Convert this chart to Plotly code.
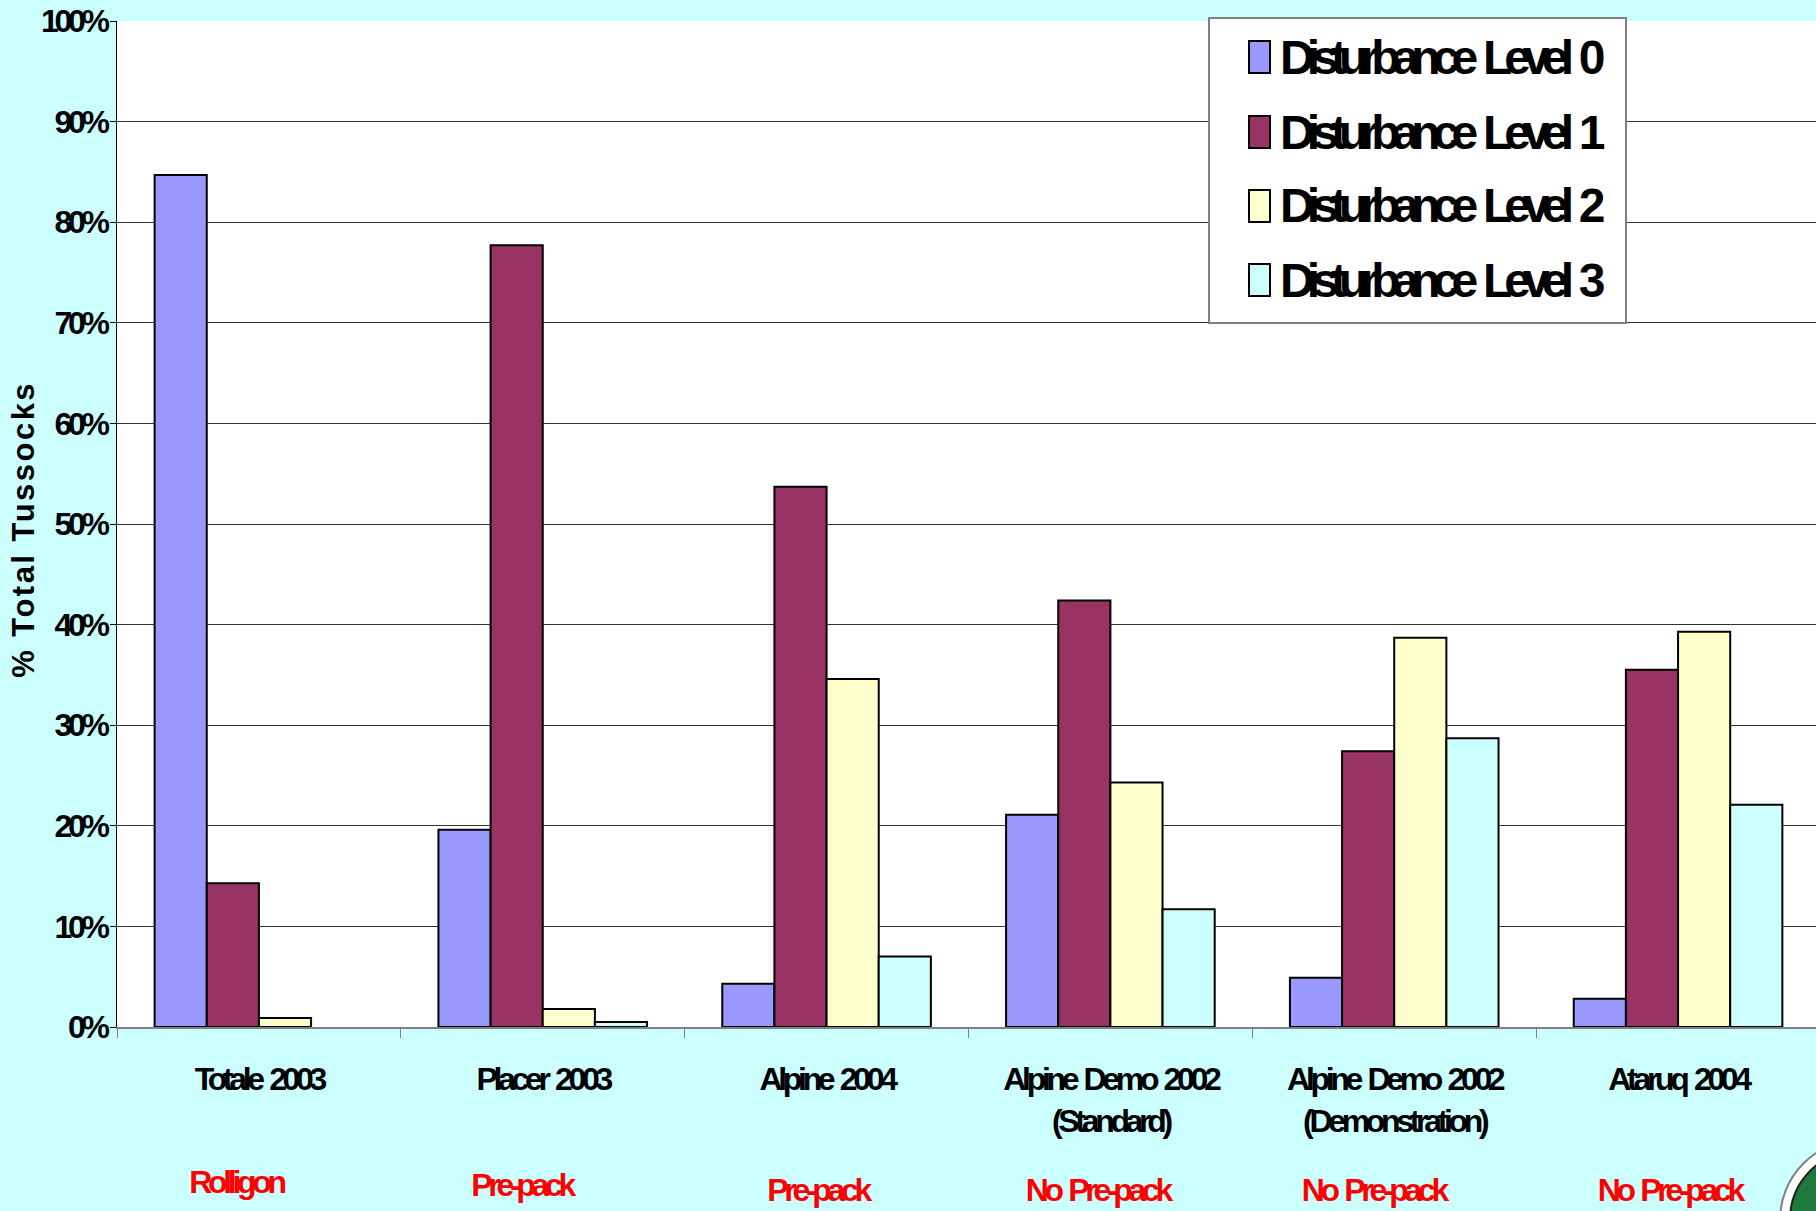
import plotly.graph_objects as go

# ---- data -----------------------------------------------------------------
categories = [
    "Totale 2003",
    "Placer 2003",
    "Alpine 2004",
    "Alpine Demo 2002 (Standard)",
    "Alpine Demo 2002 (Demonstration)",
    "Ataruq 2004",
]
tick_labels = [
    "Totale 2003",
    "Placer 2003",
    "Alpine 2004",
    "Alpine Demo 2002<br>(Standard)",
    "Alpine Demo 2002<br>(Demonstration)",
    "Ataruq 2004",
]
methods = ["Rolligon", "Pre-pack", "Pre-pack", "No Pre-pack", "No Pre-pack", "No Pre-pack"]

level_names = [
    "Disturbance Level 0",
    "Disturbance Level 1",
    "Disturbance Level 2",
    "Disturbance Level 3",
]
level_0 = [84.7, 19.6, 4.3, 21.1, 4.9, 2.8]
level_1 = [14.3, 77.7, 53.7, 42.4, 27.4, 35.5]
level_2 = [0.9, 1.8, 34.6, 24.3, 38.7, 39.3]
level_3 = [None, 0.5, 7.0, 11.7, 28.7, 22.1]
level_values = [level_0, level_1, level_2, level_3]

y_ticks = [0, 10, 20, 30, 40, 50, 60, 70, 80, 90, 100]
y_tick_labels = ["0%", "10%", "20%", "30%", "40%", "50%", "60%", "70%", "80%", "90%", "100%"]
y_title = "% Total Tussocks"

# ---- styling ----------------------------------------------------------------
level_colors = ["#9999FF", "#993366", "#FFFFCC", "#CCFFFF"]
page_bg = "#CCFFFF"
sans = "Liberation Sans, Arial, sans-serif"

W, H = 1816, 1211
M_L, M_R, M_T, M_B = 117, 0, 21, 184
PLOT_W = W - M_L - M_R
PLOT_H = H - M_T - M_B


def px_x(x):
    """pixel column -> paper x"""
    return (x - M_L) / PLOT_W


def px_y(y):
    """pixel row -> paper y"""
    return (H - M_B - y) / PLOT_H


fig = go.Figure()
for name, vals, color in zip(level_names, level_values, level_colors):
    fig.add_trace(
        go.Bar(
            name=name,
            x=categories,
            y=vals,
            marker=dict(color=color, line=dict(color="#000000", width=2)),
            showlegend=False,
        )
    )

fig.update_layout(
    width=W,
    height=H,
    margin=dict(l=M_L, r=M_R, t=M_T, b=M_B, autoexpand=False),
    paper_bgcolor=page_bg,
    plot_bgcolor="#FFFFFF",
    barmode="group",
    bargap=0.265,
    bargroupgap=0,
    font=dict(family=sans, color="#000000"),
)

fig.update_xaxes(
    tickmode="array",
    tickvals=categories,
    ticktext=tick_labels,
    tickangle=0,
    automargin=False,
    range=[-0.5, 5.486],
    showline=True,
    linecolor="#808080",
    linewidth=2,
    ticks="outside",
    tickson="boundaries",
    ticklen=9,
    tickcolor="#808080",
    tickwidth=1,
    showgrid=False,
    tickfont=dict(family=sans, size=32, weight="bold", color="#000000"),
    ticklabelstandoff=23,
)

fig.update_yaxes(
    range=[0, 100],
    tickmode="array",
    tickvals=y_ticks,
    ticktext=y_tick_labels,
    automargin=False,
    showline=True,
    linecolor="#000000",
    linewidth=1,
    ticks="outside",
    ticklen=6,
    tickcolor="#000000",
    showgrid=True,
    gridcolor="#333333",
    gridwidth=1,
    zeroline=False,
    tickfont=dict(family=sans, size=32, weight="bold", color="#000000"),
    ticklabelstandoff=-2,
)

# value-axis title, set vertically beside the tick labels
fig.add_annotation(
    x=px_x(23),
    xref="paper",
    y=px_y(530),
    yref="paper",
    text=y_title,
    textangle=-90,
    showarrow=False,
    xanchor="center",
    yanchor="middle",
    font=dict(family=sans, size=31, weight="bold", color="#000000"),
)

# treatment notes under each site
method_shift = [-23, -21, -9, -13, -21, -9]
method_row = [1182, 1185, 1190, 1190, 1190, 1190]
for cat, text, dx, row in zip(categories, methods, method_shift, method_row):
    fig.add_annotation(
        x=cat,
        xref="x",
        y=px_y(row),
        yref="paper",
        xshift=dx,
        text=text,
        showarrow=False,
        xanchor="center",
        yanchor="middle",
        font=dict(family=sans, size=32, weight="bold", color="#FF0000"),
    )

# legend box
fig.add_shape(
    type="rect",
    xref="paper",
    yref="paper",
    x0=px_x(1209),
    x1=px_x(1626),
    y0=px_y(323),
    y1=px_y(18),
    fillcolor="#FFFFFF",
    line=dict(color="#808080", width=2),
    layer="above",
)
legend_rows = [57, 132, 206, 280]
for name, color, row in zip(level_names, level_colors, legend_rows):
    fig.add_shape(
        type="rect",
        xref="paper",
        yref="paper",
        x0=px_x(1249),
        x1=px_x(1270),
        y0=px_y(row + 16),
        y1=px_y(row - 16),
        fillcolor=color,
        line=dict(color="#000000", width=2),
        layer="above",
    )
    fig.add_annotation(
        x=px_x(1278),
        xref="paper",
        y=px_y(row),
        yref="paper",
        text=name,
        showarrow=False,
        xanchor="left",
        yanchor="middle",
        align="left",
        font=dict(family=sans, size=48, weight="bold", color="#000000"),
    )

# corner seal
fig.add_shape(
    type="circle",
    xref="paper",
    yref="paper",
    x0=px_x(1780),
    x1=px_x(1940),
    y0=px_y(1300),
    y1=px_y(1140),
    fillcolor="#FFFFFF",
    line=dict(color="#808080", width=2),
    layer="above",
)
fig.add_shape(
    type="circle",
    xref="paper",
    yref="paper",
    x0=px_x(1790),
    x1=px_x(1930),
    y0=px_y(1290),
    y1=px_y(1150),
    fillcolor="#1E7A3C",
    line=dict(color="#222222", width=2),
    layer="above",
)

# tightly tracked bold lettering for ticks, notes and legend entries;
# the axis title keeps slightly open tracking
condensed_css = """
var css = document.createElement('style');
css.textContent =
  '.xtick text, .ytick text, .annotation-text { letter-spacing: -0.135em; word-spacing: 0.12em; }' +
  ' text.annotation-text[style*="font-size: 48px"] { letter-spacing: -0.165em; word-spacing: 0.15em; }' +
  ' text.annotation-text[style*="font-size: 31px"] { letter-spacing: 0.08em; word-spacing: 0; }';
document.head.appendChild(css);
"""

fig.write_html("out.html", post_script=condensed_css)
